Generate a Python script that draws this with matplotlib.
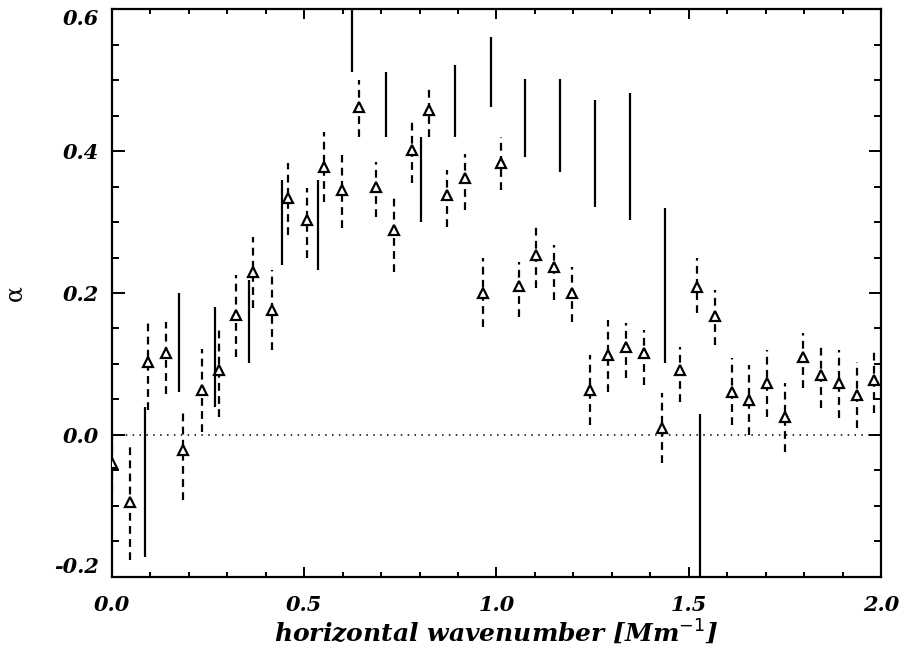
import numpy as np
import matplotlib
matplotlib.use("Agg")
import matplotlib.pyplot as plt
from matplotlib.ticker import MultipleLocator

# Triangle series (central value with dashed error range)
tri_k = [0.000, 0.046, 0.094, 0.140, 0.185, 0.233, 0.279, 0.322, 0.367, 0.416,
         0.458, 0.507, 0.551, 0.598, 0.642, 0.686, 0.733, 0.779, 0.824, 0.871,
         0.918, 0.965, 1.011, 1.058, 1.103, 1.149, 1.196, 1.243, 1.290, 1.337,
         1.384, 1.430, 1.477, 1.521, 1.568, 1.612, 1.657, 1.704, 1.750, 1.797,
         1.844, 1.891, 1.937, 1.982]
tri_val = [-0.040, -0.094, 0.103, 0.115, -0.021, 0.063, 0.092, 0.169, 0.230, 0.176,
           0.334, 0.303, 0.377, 0.345, 0.462, 0.350, 0.289, 0.401, 0.458, 0.338,
           0.362, 0.200, 0.383, 0.210, 0.254, 0.237, 0.200, 0.063, 0.113, 0.124,
           0.115, 0.010, 0.092, 0.209, 0.167, 0.061, 0.049, 0.073, 0.025, 0.110,
           0.085, 0.073, 0.056, 0.077]
tri_hi = [0.000, -0.017, 0.158, 0.159, 0.033, 0.121, 0.149, 0.225, 0.279, 0.232,
          0.383, 0.348, 0.427, 0.394, 0.500, 0.385, 0.334, 0.446, 0.493, 0.373,
          0.396, 0.249, 0.420, 0.244, 0.298, 0.268, 0.237, 0.113, 0.162, 0.158,
          0.148, 0.059, 0.124, 0.249, 0.204, 0.108, 0.099, 0.120, 0.073, 0.144,
          0.130, 0.120, 0.103, 0.120]
tri_lo = [-0.080, -0.176, 0.035, 0.058, -0.092, 0.004, 0.025, 0.110, 0.179, 0.120,
          0.282, 0.249, 0.328, 0.291, 0.420, 0.307, 0.230, 0.355, 0.420, 0.293,
          0.317, 0.152, 0.345, 0.166, 0.207, 0.190, 0.159, 0.014, 0.061, 0.080,
          0.070, -0.040, 0.046, 0.172, 0.127, 0.014, 0.000, 0.025, -0.024, 0.066,
          0.038, 0.024, 0.010, 0.031]

# Solid-line series (error range only)
bar_k = [0.086, 0.175, 0.268, 0.356, 0.442, 0.536, 0.624, 0.713, 0.804, 0.892,
         0.985, 1.074, 1.165, 1.256, 1.347, 1.438, 1.529]
bar_hi = [0.040, 0.200, 0.180, 0.218, 0.359, 0.359, 0.620, 0.511, 0.420, 0.521,
          0.561, 0.501, 0.501, 0.472, 0.482, 0.320, 0.030]
bar_lo = [-0.172, 0.061, 0.040, 0.101, 0.239, 0.232, 0.511, 0.420, 0.300, 0.420,
          0.462, 0.392, 0.371, 0.321, 0.303, 0.101, -0.250]

xticks = [0.0, 0.5, 1.0, 1.5, 2.0]
yticks = [-0.2, 0.0, 0.2, 0.4, 0.6]

fig = plt.figure(figsize=(9.06, 6.53), dpi=100)
ax = fig.add_axes([0.1236, 0.1164, 0.8488, 0.8698])

ax.axhline(0.0, color='black', lw=1.1, linestyle=(0, (1, 3.5)), zorder=1)

ax.vlines(bar_k, bar_lo, bar_hi, colors='black', lw=1.6, zorder=2)
ax.vlines(tri_k, tri_lo, tri_hi, colors='black', lw=1.6,
          linestyles=[(0, (3.5, 2.4))], zorder=2)
ax.plot(tri_k, tri_val, linestyle='none', marker='^', markersize=7.5,
        markerfacecolor='white', markeredgecolor='black', markeredgewidth=1.6,
        zorder=3)

ax.set_xlim(0.0, 2.0)
ax.set_ylim(-0.2, 0.6)
ax.set_xticks(xticks)
ax.set_yticks(yticks)
ax.xaxis.set_minor_locator(MultipleLocator(0.1))
ax.yaxis.set_minor_locator(MultipleLocator(0.05))

tick_font = dict(family='DejaVu Serif', style='italic', weight='bold', size=15)
ax.set_xticklabels([f"{v:.1f}" for v in xticks], fontdict=tick_font)
ylabels = ax.set_yticklabels([f"{v:.1f}" for v in yticks], fontdict=tick_font)
# IDL keeps the end labels inside the axis extent
ylabels[0].set_verticalalignment('bottom')
ylabels[-1].set_verticalalignment('top')

ax.tick_params(axis='both', which='both', direction='in', top=True, right=True,
               width=1.4, color='black')
ax.tick_params(axis='x', which='major', length=7, pad=13)
ax.tick_params(axis='x', which='minor', length=3.5)
ax.tick_params(axis='y', which='major', length=9, pad=9)
ax.tick_params(axis='y', which='minor', length=5)

for sp in ax.spines.values():
    sp.set_linewidth(1.6)

ax.set_xlabel("horizontal wavenumber [Mm$^{-1}$]", family='DejaVu Serif',
              style='italic', weight='bold', size=18, labelpad=2)
ax.set_ylabel("α", family='DejaVu Serif', size=17, labelpad=20)

fig.savefig("out.png", dpi=100)
